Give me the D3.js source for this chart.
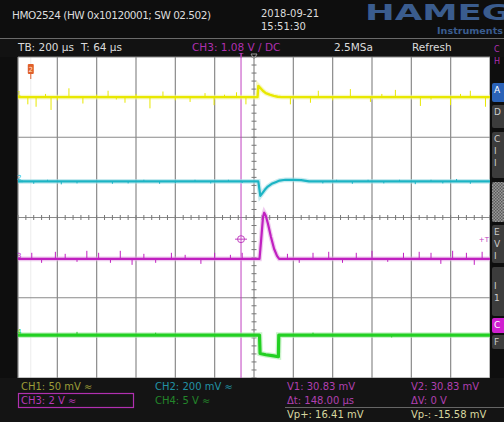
<!DOCTYPE html>
<html><head><meta charset="utf-8">
<script src="https://cdn.jsdelivr.net/npm/d3@7"></script>
<style>html,body{margin:0;padding:0;background:#0e0e0e;}svg{display:block;}</style>
</head><body>
<svg id="c" width="504" height="422"></svg>
<script>
// ---- Data (time in µs, relative to screen centre) ----
const timeDomain = [-1200, 1200];          // 12 div x 200 µs
const divDomain = [-4, 4];                 // vertical divisions
// CH1 (mV): signal shape and noise spikes
const ch1 = [[-1200,0],[18,0],[22,14],[30,12],[45,8],[60,5],[80,3],[100,1.5],[120,0.5],[140,0],[1200,0]];
const ch1Spikes = [[-1150,-9],[-1108,-12],[-1060,4],[-1032,-16],[-1000,-4],[-941,11],[-870,-8],[-800,3],[-742,8],[-700,-3],[-656,-7],[-600,4],[-529,-14],[-463,7],[-400,-4],[-325,-6],[-249,5],[-203,-10],[-150,3],[-89,6],[-41,-9],[185,-9],[287,-7],[327,8],[400,-4],[490,10],[592,-6],[650,4],[719,9],[846,-11],[900,-3],[999,-10],[1050,4],[1100,8],[1177,-12]];
// CH2 (mV)
const ch2 = [[-1200,0],[22,0],[32,-72],[40,-62],[55,-42],[70,-26],[90,-12],[110,-4],[130,4],[160,8],[200,8],[240,6],[280,0],[1200,0]];
const ch2Spikes = [[-1120,-12],[-1050,8],[-980,-15],[-900,-10],[-720,-12],[-640,-10],[-560,8],[-480,-12],[-400,-8],[-300,8],[-220,-10],[-130,8],[-60,-8],[350,-10],[420,8],[500,-12],[580,8],[660,-10],[740,8],[820,-14],[900,8],[960,-10],[1030,12],[1100,-12]];
// CH3 (V)
const ch3 = [[-1200,0],[28,0],[36,0.9],[46,2.1],[52,2.3],[60,2.15],[71,1.75],[86,1.1],[102,0.5],[117,0.15],[128,0],[1200,0]];
const ch3Spikes = [[-1130,0.3],[-1080,-0.2],[-1010,0.35],[-960,0.25],[-900,-0.15],[-850,0.4],[-790,0.3],[-730,-0.2],[-680,0.4],[-620,-0.3],[-560,0.25],[-500,-0.2],[-420,0.3],[-350,0.2],[-270,-0.25],[-200,0.3],[-120,0.2],[-60,0.3],[170,0.25],[230,-0.2],[300,0.3],[380,0.35],[450,-0.2],[520,0.3],[600,0.4],[680,-0.15],[760,0.3],[840,0.35],[900,0.3],[950,-0.25],[1010,0.4],[1080,0.3],[1120,-0.3],[1160,0.35]];
// CH4 (V)
const ch4 = [[-1200,0],[28,0],[31,-2.3],[60,-2.45],[100,-2.6],[124,-2.7],[126,0],[1200,0]];
const ch4Spikes = [[-900,0.4],[-500,0.3],[-200,-0.3],[300,0.3],[700,-0.3]];
const channels = [
  {name:"1", data:ch1, spikes:ch1Spikes, offset:3.0,  perDiv:50,  color:"#e8e800", halo:"#f4f4a0", w:2.4},
  {name:"2", data:ch2, spikes:ch2Spikes, offset:0.9,  perDiv:200, color:"#1cb4c4", halo:"#a0dce4", w:2.2},
  {name:"3", data:ch3, spikes:ch3Spikes, offset:-1.03,perDiv:2,   color:"#c020c0", halo:"#e4a8e4", w:2.2},
  {name:"4", data:ch4, spikes:ch4Spikes, offset:-2.93,perDiv:5,   color:"#22d022", halo:"#a8eaa8", w:3.2}
];
const cursorT = -66;       // vertical cursor position (µs)
const headerTexts = {
  model:"HMO2524 (HW 0x10120001; SW 02.502)", date:"2018-09-21", time:"15:51:30",
  tb:"TB: 200 µs", trig:"T: 64 µs", ch3info:"CH3: 1.08 V / DC", rate:"2.5MSa", mode:"Refresh"
};
const footer = [
  {t:"CH1: 50 mV ≈", x:21, y:390, c:"#9c9c38"},
  {t:"CH3: 2 V ≈", x:21, y:404, c:"#b838b8"},
  {t:"CH2: 200 mV ≈", x:155, y:390, c:"#2292a4"},
  {t:"CH4: 5 V ≈", x:155, y:404, c:"#23862a"},
  {t:"V1: 30.83 mV", x:287, y:390, c:"#b040b0"},
  {t:"V2: 30.83 mV", x:411, y:390, c:"#b040b0"},
  {t:"Δt: 148.00 µs", x:287, y:404, c:"#b040b0"},
  {t:"ΔV: 0 V", x:411, y:404, c:"#b040b0"},
  {t:"Vp+: 16.41 mV", x:287, y:418, c:"#d8d8a0"},
  {t:"Vp-: -15.58 mV", x:411, y:418, c:"#d8d8a0"}
];

// ---- Drawing ----
const svg = d3.select("#c");
const F = "'DejaVu Sans', sans-serif";
const L=18, R=490, T=57, B=378;
const x = d3.scaleLinear().domain(timeDomain).range([L,R]);
const y = d3.scaleLinear().domain(divDomain).range([B,T]);

svg.append("rect").attr("width",504).attr("height",422).attr("fill","#0e0e0e");
// header
svg.append("text").attr("x",12).attr("y",19).attr("fill","#dcdcdc").attr("font-family",F).attr("font-size",10.5)
  .attr("textLength",199).text(headerTexts.model);
svg.append("text").attr("x",261).attr("y",17).attr("fill","#dcdcdc").attr("font-family",F).attr("font-size",10).text(headerTexts.date);
svg.append("text").attr("x",261).attr("y",30).attr("fill","#dcdcdc").attr("font-family",F).attr("font-size",10).text(headerTexts.time);
svg.append("text").attr("x",365).attr("y",20).attr("fill","#3a5c8e").attr("font-family",F)
  .attr("font-weight","bold").attr("font-size",21).attr("textLength",146).attr("lengthAdjust","spacingAndGlyphs").text("HAMEG");
svg.append("text").attr("x",437).attr("y",34).attr("fill","#3a5c8e").attr("font-family",F).attr("font-weight","bold")
  .attr("font-size",8).attr("textLength",66).attr("lengthAdjust","spacingAndGlyphs").text("Instruments");
svg.append("line").attr("x1",0).attr("x2",504).attr("y1",38.5).attr("y2",38.5).attr("stroke","#6a6a6a");
svg.append("rect").attr("x",0).attr("y",39).attr("width",504).attr("height",18).attr("fill","#121212");
const row2 = [
  {t:headerTexts.tb, x:18, c:"#dcdcdc"}, {t:headerTexts.trig, x:81, c:"#dcdcdc"},
  {t:headerTexts.ch3info, x:192, c:"#b030b0"}, {t:headerTexts.rate, x:334, c:"#dcdcdc"},
  {t:headerTexts.mode, x:412, c:"#dcdcdc"}
];
svg.selectAll(".r2").data(row2).join("text").attr("x",d=>d.x).attr("y",51).attr("fill",d=>d.c)
  .attr("font-family",F).attr("font-size",10.5).text(d=>d.t);

// grid area
svg.append("rect").attr("x",L).attr("y",T).attr("width",R-L).attr("height",B-T).attr("fill","#ffffff");
const g = svg.append("g");
g.append("line").attr("x1",x(-1135)).attr("x2",x(-1135)).attr("y1",T).attr("y2",B).attr("stroke","#ececec");
g.selectAll(".vl").data(d3.range(-1200,1201,200)).join("line")
  .attr("x1",d=>x(d)).attr("x2",d=>x(d)).attr("y1",T).attr("y2",B).attr("stroke","#8a8a8a").attr("stroke-width",1.2);
g.selectAll(".hl").data(d3.range(-4,4.01,2)).join("line")
  .attr("x1",L).attr("x2",R).attr("y1",d=>y(d)).attr("y2",d=>y(d)).attr("stroke","#8a8a8a").attr("stroke-width",1.2);
// minor ticks on centre axes
g.selectAll(".tx").data(d3.range(-1200,1201,40)).join("line")
  .attr("x1",d=>x(d)).attr("x2",d=>x(d)).attr("y1",y(0)-2.5).attr("y2",y(0)+2.5).attr("stroke","#777");
g.selectAll(".ty").data(d3.range(-4,4.01,0.2)).join("line")
  .attr("x1",x(0)-2.5).attr("x2",x(0)+2.5).attr("y1",d=>y(d)).attr("y2",d=>y(d)).attr("stroke","#777");

// cursor
svg.append("line").attr("x1",x(cursorT)).attr("x2",x(cursorT)).attr("y1",T-4).attr("y2",B).attr("stroke","#c040c0").attr("stroke-width",1);

// traces
svg.append("clipPath").attr("id","clip").append("rect").attr("x",L).attr("y",T).attr("width",R-L).attr("height",B-T);
const tg = svg.append("g").attr("clip-path","url(#clip)");
channels.forEach(ch=>{
  const yv = v => y(ch.offset + v/ch.perDiv);
  const line = d3.line().x(d=>x(d[0])).y(d=>yv(d[1]));
  tg.append("path").attr("d",line(ch.data)).attr("fill","none").attr("stroke",ch.halo).attr("stroke-width",ch.w+2.5).attr("opacity",0.6);
  tg.selectAll(null).data(ch.spikes).join("line")
    .attr("x1",d=>x(d[0])).attr("x2",d=>x(d[0])).attr("y1",yv(0)).attr("y2",d=>yv(d[1]))
    .attr("stroke",ch.color).attr("stroke-width",1);
  tg.append("path").attr("d",line(ch.data)).attr("fill","none").attr("stroke",ch.color).attr("stroke-width",ch.w).attr("stroke-linejoin","round");
  // channel markers
  svg.append("text").attr("x",L-1).attr("y",yv(0)-1).attr("fill",ch.color).attr("font-family",F).attr("font-size",7).text(ch.name);
  svg.append("line").attr("x1",L).attr("x2",L+5).attr("y1",yv(0)).attr("y2",yv(0)).attr("stroke",ch.color).attr("stroke-width",1.5);
});

// trigger / markers
svg.append("line").attr("x1",x(-1135)).attr("x2",x(-1135)).attr("y1",74).attr("y2",79).attr("stroke","#e06030");
svg.append("rect").attr("x",x(-1135)-3).attr("y",64).attr("width",6).attr("height",10).attr("rx",1).attr("fill","#e0602a");
svg.append("text").attr("x",x(-1135)).attr("y",72).attr("text-anchor","middle").attr("fill","#ffe0d0").attr("font-family",F).attr("font-size",7).text("2");
svg.append("text").attr("x",x(cursorT)).attr("y",58).attr("text-anchor","middle").attr("fill","#c040c0").attr("font-family",F).attr("font-size",7).text("T");
svg.append("path").attr("d",`M${x(0)-3},54 L${x(0)+3},54 L${x(0)},59 Z`).attr("fill","none").attr("stroke","#999");
const cy = y(-0.54);
svg.append("circle").attr("cx",x(cursorT)).attr("cy",cy).attr("r",3.5).attr("fill","none").attr("stroke","#c040c0");
svg.append("line").attr("x1",x(cursorT)-6).attr("x2",x(cursorT)+6).attr("y1",cy).attr("y2",cy).attr("stroke","#c040c0");
svg.append("text").attr("x",489).attr("y",cy+3).attr("text-anchor","end").attr("fill","#c040c0").attr("font-family",F).attr("font-size",7).text("+T");

// right panel
svg.append("rect").attr("x",R).attr("y",T).attr("width",14).attr("height",B-T).attr("fill","#0e0e0e");
svg.append("text").attr("x",494).attr("y",52).attr("fill","#b030b0").attr("font-family",F).attr("font-size",8).text("C");
svg.append("text").attr("x",494).attr("y",64).attr("fill","#b030b0").attr("font-family",F).attr("font-size",8).text("H");
const defs = svg.append("defs");
const pat = defs.append("pattern").attr("id","chk").attr("width",3).attr("height",3).attr("patternUnits","userSpaceOnUse");
pat.append("rect").attr("width",3).attr("height",3).attr("fill","#9a9a9a");
pat.append("rect").attr("width",1.5).attr("height",1.5).attr("fill","#5a5a5a");
pat.append("rect").attr("x",1.5).attr("y",1.5).attr("width",1.5).attr("height",1.5).attr("fill","#5a5a5a");
const btns = [
  {y:83,h:19,f:"#2a62b8",l:["A"],lc:"#fff"},
  {y:105,h:23,f:"#3c3c3c",l:["D"],lc:"#ccc"},
  {y:132,h:46,f:"#3c3c3c",l:["C","I","I"],lc:"#ccc"},
  {y:182,h:40,f:"url(#chk)",l:[],lc:"#ccc"},
  {y:225,h:38,f:"#3c3c3c",l:["E","V","I"],lc:"#ccc"},
  {y:267,h:49,f:"#3c3c3c",l:["","I","1"],lc:"#ccc"},
  {y:318,h:15,f:"#d020d0",l:["C"],lc:"#fff"},
  {y:335,h:14,f:"#3c3c3c",l:["F"],lc:"#ccc"}
];
btns.forEach(b=>{
  svg.append("rect").attr("x",492).attr("y",b.y).attr("width",14).attr("height",b.h).attr("rx",2).attr("fill",b.f);
  b.l.forEach((t,i)=>svg.append("text").attr("x",494).attr("y",b.y+10+i*12).attr("fill",b.lc).attr("font-family",F).attr("font-size",9).text(t));
});

// footer
svg.append("rect").attr("x",0).attr("y",B).attr("width",504).attr("height",422-B).attr("fill","#141414");
svg.append("rect").attr("x",18.5).attr("y",393.5).attr("width",115).attr("height",14).attr("fill","none").attr("stroke","#b030b0").attr("stroke-width",1.2);
svg.append("line").attr("x1",285).attr("x2",504).attr("y1",407.5).attr("y2",407.5).attr("stroke","#666");
svg.selectAll(".ft").data(footer).join("text").attr("x",d=>d.x).attr("y",d=>d.y).attr("fill",d=>d.c)
  .attr("font-family",F).attr("font-size",10).text(d=>d.t);
</script>
</body></html>
